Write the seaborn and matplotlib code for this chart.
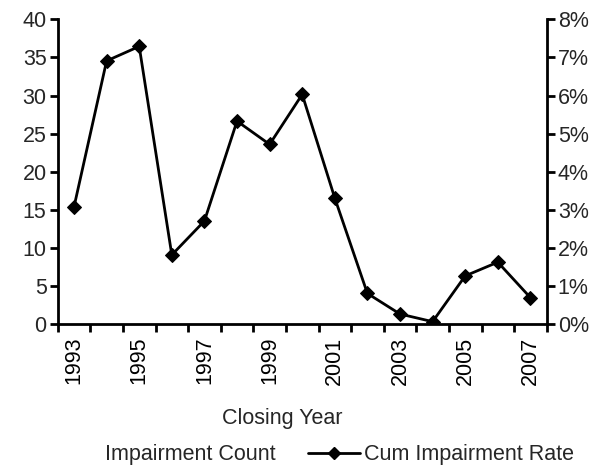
import matplotlib
matplotlib.use("Agg")
import matplotlib.pyplot as plt
from matplotlib.patches import Patch
from matplotlib.lines import Line2D
from matplotlib.ticker import FixedLocator, PercentFormatter
import numpy as np
import pandas as pd
import seaborn as sns

years = [1993, 1994, 1995, 1996, 1997, 1998, 1999, 2000,
         2001, 2002, 2003, 2004, 2005, 2006, 2007]
cum_rate = [3.08, 6.91, 7.29, 1.82, 2.71, 5.33, 4.72, 6.03,
            3.31, 0.81, 0.27, 0.07, 1.27, 1.63, 0.70]
count_ticks = [0, 5, 10, 15, 20, 25, 30, 35, 40]
rate_ticks = [0, 1, 2, 3, 4, 5, 6, 7, 8]

FS = 15.5

sns.set_theme(style="white")
plt.rcParams["font.family"] = ["Liberation Sans", "DejaVu Sans"]
plt.rcParams["font.size"] = FS

df = pd.DataFrame({"pos": np.arange(len(years)), "year": years, "rate": cum_rate})

fig = plt.figure(figsize=(6.12, 4.69), dpi=100)
ax = fig.add_axes([0.0943, 0.3085, 0.799, 0.6503])
ax2 = ax.twinx()

sns.lineplot(data=df, x="pos", y="rate", ax=ax2, color="black", linewidth=2,
             marker="D", markersize=7, markeredgecolor="black", legend=False)

n = len(years)
ax.set_xlim(-0.5, n - 0.5)
for a in (ax, ax2):
    a.set_facecolor("none")
    a.spines["top"].set_visible(False)

ax.set_ylim(0, 40)
ax.set_yticks(count_ticks)
ax2.set_ylim(0, 8)
ax2.set_yticks(rate_ticks)
ax2.yaxis.set_major_formatter(PercentFormatter(decimals=0))

ax.spines["right"].set_visible(False)
ax2.spines["left"].set_visible(False)
ax2.spines["bottom"].set_visible(False)
for s in ("left", "bottom"):
    ax.spines[s].set_linewidth(2)
    ax.spines[s].set_color("black")
ax2.spines["right"].set_linewidth(2)
ax2.spines["right"].set_color("black")

# Category labels every other year, tick marks on category boundaries
label_pos = list(range(0, n, 2))
ax.xaxis.set_major_locator(FixedLocator(label_pos))
ax.xaxis.set_minor_locator(FixedLocator(np.arange(-0.5, n, 1.0)))
ax.set_xticklabels([str(years[i]) for i in label_pos], rotation=90)
ax.tick_params(axis="x", which="major", length=0, pad=9, labelsize=FS, colors="black",
               bottom=True, labelbottom=True)
ax.tick_params(axis="x", which="minor", length=6, width=2, color="black", direction="out",
               bottom=True)
ax.tick_params(axis="y", length=6, width=2, color="black", direction="out", left=True,
               labelsize=FS, pad=2)
ax2.tick_params(axis="y", length=6, width=2, color="black", direction="out", right=True,
                labelsize=FS, pad=2)
ax2.tick_params(axis="x", which="both", bottom=False, labelbottom=False)
ax2.set_xlabel("")
ax2.set_ylabel("")
ax.set_xlabel("")
ax.set_ylabel("")

fig.text(0.462, 0.108, "Closing Year", ha="center", va="center", fontsize=FS)

handles = [Patch(facecolor="white", edgecolor="none"),
           Line2D([0], [0], color="black", linewidth=2, marker="D", markersize=6)]
fig.legend(handles, ["Impairment Count", "Cum Impairment Rate"], loc="center",
           bbox_to_anchor=(0.509, 0.03), ncol=2, frameon=False, fontsize=FS,
           handlelength=2.4, columnspacing=1.5, handletextpad=0.2)

fig.savefig("out.png", dpi=100)
